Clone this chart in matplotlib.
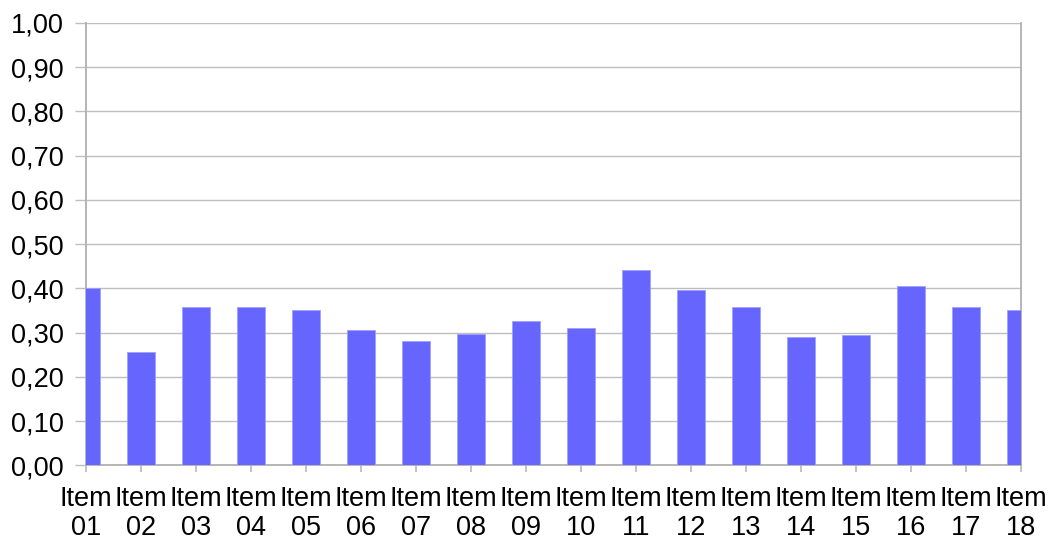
"""
Bar chart of item scores (0-1 scale)
"""
import matplotlib
matplotlib.use("Agg")
import matplotlib.pyplot as plt

# Data
items = ["Item\n01", "Item\n02", "Item\n03", "Item\n04", "Item\n05", "Item\n06",
         "Item\n07", "Item\n08", "Item\n09", "Item\n10", "Item\n11", "Item\n12",
         "Item\n13", "Item\n14", "Item\n15", "Item\n16", "Item\n17", "Item\n18"]
scores = [0.400, 0.256, 0.359, 0.359, 0.351, 0.307, 0.282, 0.296, 0.326,
          0.311, 0.442, 0.396, 0.359, 0.291, 0.295, 0.406, 0.359, 0.352]
yticks = [0.0, 0.1, 0.2, 0.3, 0.4, 0.5, 0.6, 0.7, 0.8, 0.9, 1.0]
ylabels = ["0,00", "0,10", "0,20", "0,30", "0,40", "0,50",
           "0,60", "0,70", "0,80", "0,90", "1,00"]

plt.rcParams['font.family'] = ['Liberation Sans', 'DejaVu Sans']

fig = plt.figure(figsize=(10.48, 5.41), dpi=100)
ax = fig.add_axes([0.0821, 0.1399, 0.8921, 0.8176])

x = list(range(len(items)))
ax.bar(x, scores, width=0.5, color="#6666FF", edgecolor="#A0A0FF",
       linewidth=0.6, zorder=3)

ax.set_xlim(0, len(items) - 1)
ax.set_ylim(0, 1.0)
ax.set_yticks(yticks)
ax.set_yticklabels(ylabels, fontsize=19.5)
ax.set_xticks(x)
ax.set_xticklabels(items, fontsize=19.5, linespacing=1.12)

grid_color = "#BEBEBE"
ax.yaxis.grid(True, color=grid_color, linewidth=1.0, zorder=0)
for side in ["left", "bottom", "right"]:
    ax.spines[side].set_color("#B0B0B0")
    ax.spines[side].set_linewidth(1.3)
ax.spines["top"].set_visible(False)

ax.tick_params(axis="y", color=grid_color, length=8, width=1.0, pad=8)
ax.tick_params(axis="x", color=grid_color, length=5, width=1.3, pad=10)

fig.savefig("out.png", dpi=100)
